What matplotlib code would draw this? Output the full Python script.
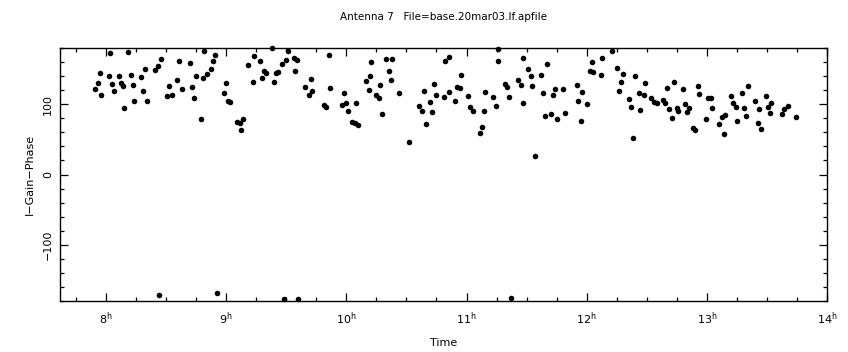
import matplotlib
matplotlib.use("Agg")
import matplotlib.pyplot as plt
from matplotlib.ticker import MultipleLocator, FixedLocator

# Antenna 7 gain-phase solutions (time in hours, phase in degrees)
time_h = [
    7.908, 7.931, 7.948, 7.961, 8.023, 8.033, 8.050, 8.064, 8.106, 8.123,
    8.139, 8.153, 8.186, 8.206, 8.223, 8.236, 8.292, 8.308, 8.328, 8.339,
    8.408, 8.431, 8.458, 8.506, 8.523, 8.550, 8.592, 8.608, 8.633, 8.698,
    8.717, 8.733, 8.748, 8.789, 8.806, 8.817, 8.839, 8.875, 8.894, 8.906,
    8.978, 8.998, 9.014, 9.033, 9.094, 9.111, 9.123, 9.139, 9.181, 9.223,
    9.233, 9.278, 9.300, 9.317, 9.328, 9.381, 9.400, 9.417, 9.428, 9.467,
    9.500, 9.517, 9.561, 9.572, 9.589, 9.656, 9.686, 9.703, 9.714, 9.811,
    9.833, 9.853, 9.864, 9.961, 9.978, 9.998, 10.011, 10.048, 10.069, 10.081,
    10.094, 10.164, 10.186, 10.200, 10.208, 10.248, 10.269, 10.283, 10.298, 10.331,
    10.353, 10.373, 10.381, 10.442, 10.519, 10.608, 10.631, 10.650, 10.661, 10.694,
    10.714, 10.733, 10.744, 10.811, 10.819, 10.858, 10.853, 10.903, 10.917, 10.942,
    10.950, 11.014, 11.033, 11.056, 11.111, 11.128, 11.144, 11.158, 11.223, 11.242,
    11.261, 11.264, 11.323, 11.339, 11.356, 11.431, 11.450, 11.467, 11.473, 11.514,
    11.533, 11.548, 11.569, 11.617, 11.636, 11.653, 11.667, 11.706, 11.723, 11.736,
    11.750, 11.800, 11.819, 11.923, 11.931, 11.950, 11.964, 12.006, 12.025, 12.042,
    12.056, 12.119, 12.131, 12.214, 12.256, 12.273, 12.289, 12.300, 12.356, 12.373,
    12.389, 12.403, 12.439, 12.444, 12.478, 12.486, 12.539, 12.561, 12.583, 12.636,
    12.650, 12.667, 12.681, 12.714, 12.728, 12.748, 12.764, 12.798, 12.817, 12.839,
    12.853, 12.883, 12.900, 12.923, 12.931, 12.994, 13.011, 13.033, 13.042, 13.103,
    13.123, 13.139, 13.153, 13.200, 13.219, 13.242, 13.250, 13.292, 13.311, 13.328,
    13.339, 13.400, 13.423, 13.436, 13.450, 13.489, 13.506, 13.525, 13.533, 13.625,
    13.644, 13.673, 13.742,
    8.442, 8.925, 9.483, 9.600, 11.367,
]
phase_deg = [
    121.2, 130.2, 144.0, 113.1, 139.7, 172.5, 128.3, 118.8, 139.7, 129.8,
    125.9, 95.0, 173.9, 141.6, 127.8, 104.2, 138.3, 118.4, 149.7, 105.0,
    149.1, 154.8, 164.3, 111.3, 125.5, 112.7, 134.5, 161.1, 121.2, 158.7,
    124.9, 108.9, 139.7, 79.4, 137.3, 175.3, 143.0, 150.5, 161.1, 169.6,
    116.0, 129.8, 105.0, 103.2, 74.7, 73.7, 63.3, 79.0, 155.4, 132.0,
    169.0, 161.9, 137.3, 147.7, 144.0, 179.6, 131.6, 144.0, 145.8, 156.8,
    163.3, 176.2, 165.3, 146.8, 162.9, 124.9, 112.7, 135.9, 119.2, 99.3,
    95.6, 170.0, 123.5, 98.9, 116.0, 101.3, 90.8, 74.3, 72.9, 101.7,
    70.9, 133.5, 120.7, 140.2, 160.1, 113.5, 108.9, 126.9, 86.5, 164.3,
    147.3, 134.0, 164.3, 116.0, 46.2, 97.5, 90.8, 118.4, 72.3, 103.6,
    88.9, 128.8, 113.5, 109.8, 161.1, 167.6, 117.0, 104.2, 124.1, 123.1,
    141.2, 111.7, 95.6, 90.8, 59.5, 68.0, 90.4, 117.8, 110.7, 97.9,
    161.9, 178.1, 128.8, 124.9, 110.7, 134.5, 127.8, 102.2, 166.2, 149.7,
    139.7, 126.4, 26.8, 141.2, 116.0, 83.7, 156.8, 85.7, 113.1, 121.2,
    78.5, 121.7, 87.9, 127.3, 105.0, 76.1, 117.0, 100.3, 147.3, 159.6,
    145.4, 141.6, 165.8, 175.7, 151.1, 118.8, 132.0, 142.6, 107.9, 95.6,
    52.4, 140.2, 115.5, 91.8, 113.1, 130.6, 108.4, 103.6, 101.3, 106.0,
    102.2, 122.7, 93.2, 80.0, 131.2, 95.0, 90.8, 121.2, 99.9, 89.4,
    94.2, 65.7, 63.3, 125.9, 114.1, 79.0, 109.3, 109.3, 94.2, 71.4,
    81.4, 57.6, 84.7, 111.7, 102.2, 96.5, 76.1, 116.4, 95.0, 83.2,
    125.9, 105.0, 73.3, 93.2, 64.3, 112.1, 96.5, 87.1, 101.3, 86.1,
    93.6, 97.5, 82.2,
    -171.5, -168.6, -177.2, -177.2, -175.7,
]

x_ticks = [8, 9, 10, 11, 12, 13, 14]
x_tick_labels = [r"$\mathregular{%d^{h}}$" % h for h in x_ticks]
y_ticks = [-100, 0, 100]
y_tick_labels = ["\u2212100", "0", "100"]

title_text = "Antenna 7   File=base.20mar03.lf.apfile"
x_label = "Time"
y_label = "I\u2212Gain\u2212Phase"

plt.rcParams["font.family"] = ["DejaVu Sans"]

fig = plt.figure(figsize=(8.48, 3.52), dpi=100)
ax = fig.add_axes([60 / 848, 1 - 301 / 352, 767 / 848, 253 / 352])

ax.plot(time_h, phase_deg, linestyle="none", marker="o", markersize=4.0,
        color="black", markeredgewidth=0, clip_on=False)

ax.set_xlim(7.617, 14.0)
ax.set_ylim(-180, 180)

ax.xaxis.set_major_locator(FixedLocator(x_ticks))
ax.set_xticklabels(x_tick_labels)
ax.xaxis.set_minor_locator(MultipleLocator(0.25))
ax.yaxis.set_major_locator(FixedLocator(y_ticks))
ax.set_yticklabels(y_tick_labels, rotation=90, va="center")
ax.yaxis.set_minor_locator(MultipleLocator(20))

ax.tick_params(which="both", direction="in", top=True, right=True,
               labelsize=8, width=0.9, color="black")
ax.tick_params(which="major", length=6)
ax.tick_params(which="minor", length=3)
ax.tick_params(axis="x", which="major", pad=7)
ax.tick_params(axis="y", which="major", pad=5)

for s in ax.spines.values():
    s.set_linewidth(1.0)

ax.set_xlabel(x_label, fontsize=8, labelpad=8)
ax.set_ylabel(y_label, fontsize=8, labelpad=6)
fig.text(443.5 / 848, 1 - 17 / 352, title_text, ha="center", va="center",
         fontsize=7.5)

fig.savefig("out.png", dpi=100)
